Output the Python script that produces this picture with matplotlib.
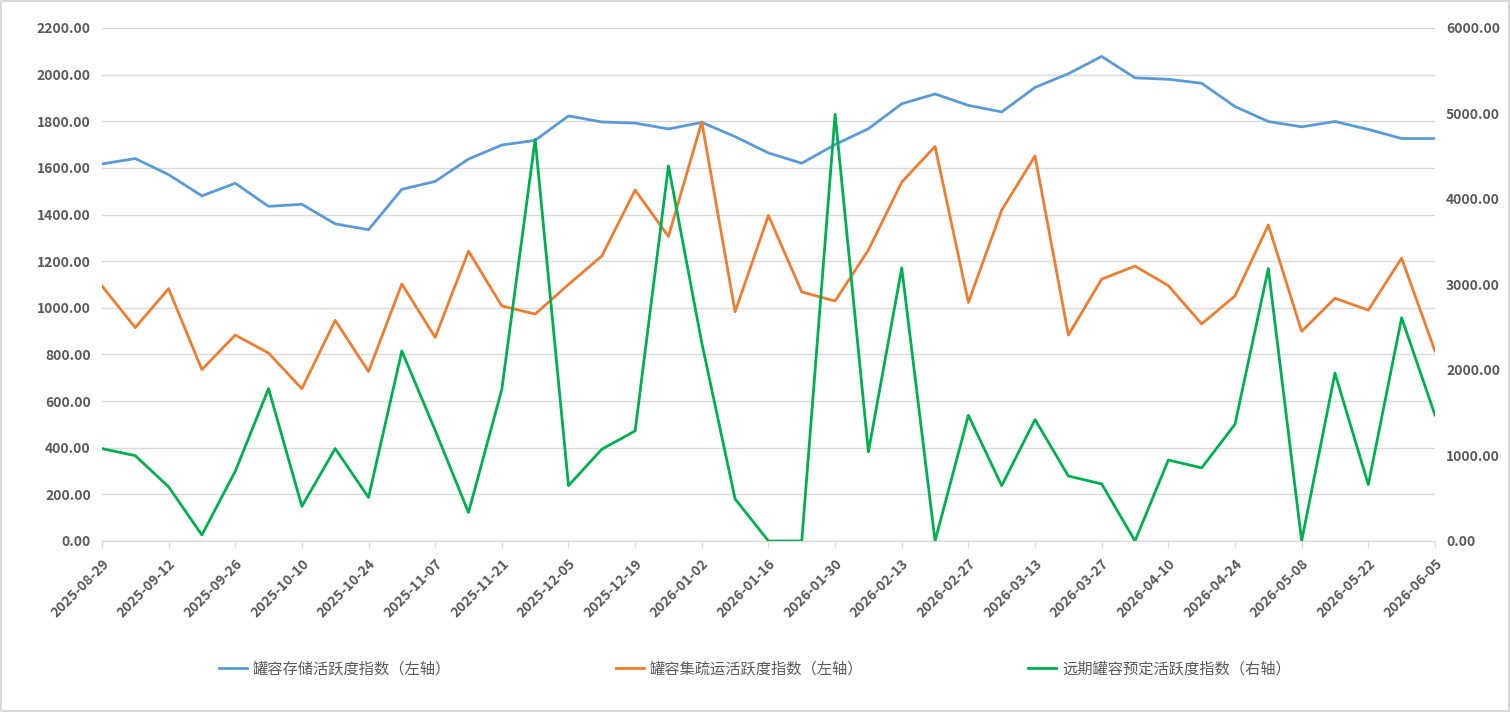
import numpy as np
import pandas as pd
import matplotlib
matplotlib.use("Agg")
import matplotlib.pyplot as plt

plt.rcParams['font.family'] = ['Noto Sans CJK SC', 'DejaVu Sans']

# weekly dates
dates = pd.date_range("2025-08-29", "2026-06-05", freq="7D").strftime("%Y-%m-%d").tolist()

# 罐容存储活跃度指数 (left)
storage = [1617, 1640, 1571, 1480, 1534, 1435, 1444, 1360, 1335, 1508,
           1542, 1638, 1698, 1718, 1823, 1797, 1792, 1767, 1795, 1734,
           1664, 1620, 1700, 1768, 1875, 1917, 1868, 1840, 1945, 2004,
           2078, 1986, 1980, 1963, 1863, 1799, 1776, 1799, 1765, 1726, 1726]

# 罐容集疏运活跃度指数 (left)
transport = [1094, 915, 1082, 735, 883, 806, 653, 946, 727, 1102,
             873, 1243, 1008, 973, 1100, 1222, 1505, 1306, 1797, 983,
             1396, 1068, 1029, 1248, 1539, 1692, 1023, 1419, 1651, 883,
             1123, 1179, 1095, 931, 1051, 1355, 899, 1041, 990, 1213, 815]

# 远期罐容预定活跃度指数 (right)
booking = [1081, 998, 634, 70, 814, 1782, 405, 1081, 509, 2222,
           1294, 333, 1774, 4698, 647, 1073, 1287, 4386, 2317, 491,
           0, 0, 4991, 1043, 3194, 0, 1469, 647, 1420, 760,
           667, 0, 947, 855, 1365, 3186, 0, 1963, 660, 2610, 1474]

labels = ["罐容存储活跃度指数（左轴）", "罐容集疏运活跃度指数（左轴）", "远期罐容预定活跃度指数（右轴）"]
colors = ["#5B9BD5", "#ED7D31", "#00B050"]

fig = plt.figure(figsize=(15.1, 7.12), dpi=100)
fig.patch.set_edgecolor("#D9D9D9")
fig.patch.set_linewidth(1.5)
ax = fig.add_axes([0.0675, 0.2402, 0.8828, 0.7205])
ax2 = ax.twinx()

x = np.arange(len(dates))
l1, = ax.plot(x, storage, color=colors[0], lw=2.0, zorder=3)
l2, = ax.plot(x, transport, color=colors[1], lw=2.0, zorder=3)
l3, = ax2.plot(x, booking, color=colors[2], lw=2.0, zorder=3)

ax.set_xlim(0, len(dates) - 1)
ax.set_ylim(0, 2200)
ax2.set_ylim(0, 6000)
ax.set_yticks(np.arange(0, 2201, 200))
ax2.set_yticks(np.arange(0, 6001, 1000))
ax.set_yticklabels([f"{v:.2f}" for v in np.arange(0, 2201, 200)])
ax2.set_yticklabels([f"{v:.2f}" for v in np.arange(0, 6001, 1000)])

ax.set_xticks(x[::2])
ax.set_xticklabels(dates[::2], rotation=45, ha="right", rotation_mode="anchor")

ax.grid(axis="y", color="#D9D9D9", lw=1)
ax.set_axisbelow(True)
for a in (ax, ax2):
    for s in ("top", "left", "right"):
        a.spines[s].set_visible(False)
    a.spines["bottom"].set_color("#D9D9D9")
    a.tick_params(axis="y", length=0, labelsize=10, labelcolor="#595959", pad=8)
ax.tick_params(axis="x", length=5, color="#D9D9D9", labelsize=10, labelcolor="#595959", pad=6)
for t in ax.get_xticklabels() + ax.get_yticklabels() + ax2.get_yticklabels():
    t.set_fontweight("bold")

fig.legend([l1, l2, l3], labels, loc="center", bbox_to_anchor=(0.5, 0.06), ncol=3,
           frameon=False, fontsize=11, labelcolor="#595959", handlelength=1.8,
           columnspacing=10.8, handletextpad=0.4)

fig.savefig("out.png", dpi=100)
